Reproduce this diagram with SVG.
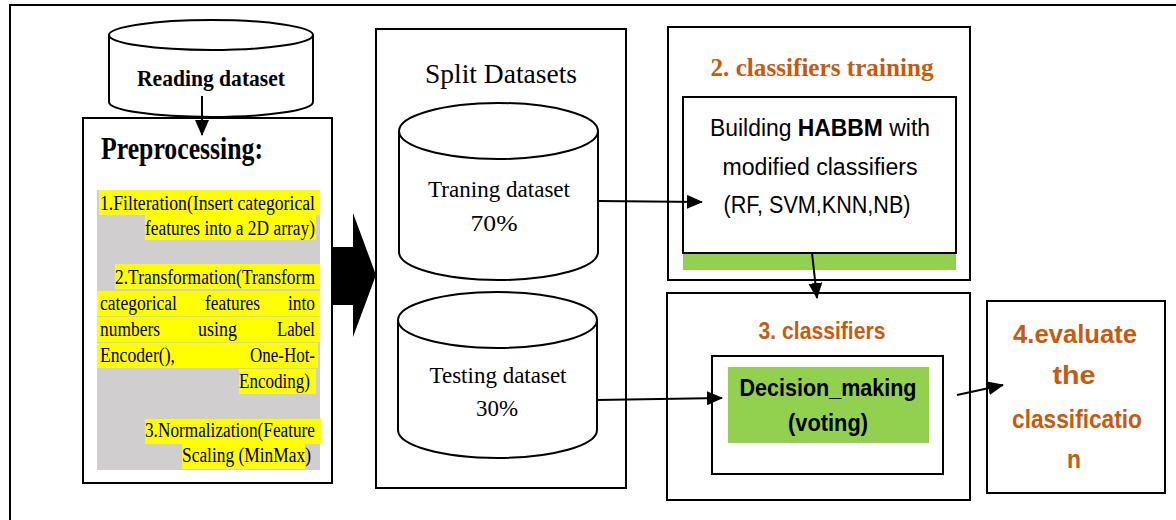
<svg xmlns="http://www.w3.org/2000/svg" width="1176" height="520" viewBox="0 0 1176 520">
<defs>
<marker id="ah" markerUnits="userSpaceOnUse" markerWidth="16" markerHeight="14" refX="15" refY="7" orient="auto">
<path d="M0,0 L16,7 L0,14 Z" fill="#000"/>
</marker>
<style>
.box{fill:#fff;stroke:#000;stroke-width:2}
.cyl{fill:#fff;stroke:#000;stroke-width:2}
.serif{font-family:"Liberation Serif","Times New Roman",serif;fill:#000}
.sans{font-family:"Liberation Sans",Arial,sans-serif;fill:#000}
.or{fill:#C55A11}
.hl{fill:#FFFF00}
.conn{stroke:#000;stroke-width:2;fill:none}
.pp{font-size:20.5px}
</style>
</defs>
<rect width="1176" height="520" fill="#fff"/>
<rect x="10" y="5" width="1200" height="600" fill="none" stroke="#000" stroke-width="2"/>

<g id="preprocessing">
<rect class="box" x="83" y="118" width="249" height="365"/>
<text class="serif" x="101" y="159" font-size="31" font-weight="bold" textLength="162" lengthAdjust="spacingAndGlyphs">Preprocessing:</text>
<rect x="97" y="190" width="223" height="280" fill="#D0CECE"/>
<rect class="hl" x="99" y="190" width="221" height="25"/>
<rect class="hl" x="145" y="215" width="171" height="25"/>
<rect class="hl" x="115" y="264" width="205" height="25"/>
<rect class="hl" x="97" y="291" width="223" height="25"/>
<rect class="hl" x="97" y="317" width="223" height="25"/>
<rect class="hl" x="97" y="343" width="221" height="25"/>
<rect class="hl" x="239" y="369" width="77" height="25"/>
<rect class="hl" x="145" y="419" width="176" height="25"/>
<rect class="hl" x="182" y="444" width="123" height="25"/>
<g class="serif pp">
<text x="100" y="210" textLength="215" lengthAdjust="spacingAndGlyphs">1.Filteration(Insert categorical</text>
<text x="145" y="235" textLength="170" lengthAdjust="spacingAndGlyphs">features into a 2D array)</text>
<text x="115" y="284" textLength="200" lengthAdjust="spacingAndGlyphs">2.Transformation(Transform</text>
<text x="100" y="310" textLength="77" lengthAdjust="spacingAndGlyphs">categorical</text>
<text x="205" y="310" textLength="55" lengthAdjust="spacingAndGlyphs">features</text>
<text x="288" y="310" textLength="27" lengthAdjust="spacingAndGlyphs">into</text>
<text x="100" y="336" textLength="60" lengthAdjust="spacingAndGlyphs">numbers</text>
<text x="198" y="336" textLength="39" lengthAdjust="spacingAndGlyphs">using</text>
<text x="277" y="336" textLength="38" lengthAdjust="spacingAndGlyphs">Label</text>
<text x="100" y="362" textLength="75" lengthAdjust="spacingAndGlyphs">Encoder(),</text>
<text x="250" y="362" textLength="65" lengthAdjust="spacingAndGlyphs">One-Hot-</text>
<text x="239" y="388" textLength="71" lengthAdjust="spacingAndGlyphs">Encoding)</text>
<text x="145" y="437" textLength="170" lengthAdjust="spacingAndGlyphs">3.Normalization(Feature</text>
<text x="182" y="462" textLength="129" lengthAdjust="spacingAndGlyphs">Scaling (MinMax)</text>
</g>
</g>

<g id="reading-dataset">
<path class="cyl" d="M109,35 A102,15 0 0 1 313,35 L313,102 A102,15 0 0 1 109,102 Z"/>
<path class="cyl" d="M109,35 A102,15 0 0 0 313,35" fill="none"/>
<text class="serif" x="211" y="86" font-size="24" font-weight="bold" text-anchor="middle" textLength="148" lengthAdjust="spacingAndGlyphs">Reading dataset</text>
</g>

<g id="split-datasets">
<rect class="box" x="376" y="29" width="250" height="459"/>
<text class="serif" x="501" y="83" font-size="28" text-anchor="middle" textLength="152" lengthAdjust="spacingAndGlyphs">Split Datasets</text>
</g>

<g id="training-dataset">
<path class="cyl" d="M399,131 A99.5,28 0 0 1 598,131 L598,252 A99.5,28 0 0 1 399,252 Z"/>
<path class="cyl" d="M399,131 A99.5,28 0 0 0 598,131" fill="none"/>
<text class="serif" x="499" y="197" font-size="24" text-anchor="middle" textLength="142" lengthAdjust="spacingAndGlyphs">Traning dataset</text>
<text class="serif" x="494" y="231" font-size="24" text-anchor="middle" textLength="47" lengthAdjust="spacingAndGlyphs">70%</text>
</g>

<g id="testing-dataset">
<path class="cyl" d="M398,320 A99.5,28 0 0 1 597,320 L597,430 A99.5,28 0 0 1 398,430 Z"/>
<path class="cyl" d="M398,320 A99.5,28 0 0 0 597,320" fill="none"/>
<text class="serif" x="498" y="383" font-size="24" text-anchor="middle" textLength="137" lengthAdjust="spacingAndGlyphs">Testing dataset</text>
<text class="serif" x="497" y="416" font-size="24" text-anchor="middle" textLength="42" lengthAdjust="spacingAndGlyphs">30%</text>
</g>

<g id="classifiers-training">
<rect class="box" x="668" y="27" width="302" height="253"/>
<text class="serif or" x="822" y="76" font-size="25" font-weight="bold" text-anchor="middle" textLength="223" lengthAdjust="spacingAndGlyphs">2. classifiers training</text>
<rect x="683" y="253" width="273" height="17" fill="#92D050"/>
<rect class="box" x="683" y="97" width="273" height="156"/>
<text class="sans" x="820" y="136" font-size="23" text-anchor="middle" textLength="220" lengthAdjust="spacingAndGlyphs">Building <tspan font-weight="bold">HABBM</tspan> with</text>
<text class="sans" x="820" y="175" font-size="23" text-anchor="middle" textLength="195" lengthAdjust="spacingAndGlyphs">modified classifiers</text>
<text class="sans" x="817" y="213" font-size="23" text-anchor="middle" textLength="187" lengthAdjust="spacingAndGlyphs">(RF, SVM,KNN,NB)</text>
</g>

<g id="classifiers">
<rect class="box" x="667" y="293" width="303" height="207"/>
<text class="sans or" x="822" y="339" font-size="24" font-weight="bold" text-anchor="middle" textLength="127" lengthAdjust="spacingAndGlyphs">3. classifiers</text>
<rect class="box" x="712" y="356" width="231" height="118"/>
<rect x="728" y="367" width="201" height="76" fill="#92D050"/>
<text class="sans" x="828" y="396" font-size="24" font-weight="bold" text-anchor="middle" textLength="177" lengthAdjust="spacingAndGlyphs">Decision_making</text>
<text class="sans" x="828" y="431" font-size="24" font-weight="bold" text-anchor="middle" textLength="80" lengthAdjust="spacingAndGlyphs">(voting)</text>
</g>

<g id="evaluate">
<rect class="box" x="987" y="301" width="178" height="192"/>
<g class="sans or" font-size="25" font-weight="bold" text-anchor="middle">
<text x="1075" y="343" textLength="124" lengthAdjust="spacingAndGlyphs">4.evaluate</text>
<text x="1074" y="384" textLength="43" lengthAdjust="spacingAndGlyphs">the</text>
<text x="1077" y="428" textLength="130" lengthAdjust="spacingAndGlyphs">classificatio</text>
<text x="1074" y="468" textLength="14" lengthAdjust="spacingAndGlyphs">n</text>
</g>
</g>

<g id="connectors">
<line class="conn" x1="202" y1="96" x2="202" y2="135" marker-end="url(#ah)"/>
<polygon points="332,247 353,247 353,213 376,275 353,337 353,305 332,305" fill="#000"/>
<line class="conn" x1="598" y1="201" x2="702" y2="202" marker-end="url(#ah)"/>
<line class="conn" x1="812" y1="253" x2="817" y2="298" marker-end="url(#ah)"/>
<line class="conn" x1="597" y1="400" x2="722" y2="398" marker-end="url(#ah)"/>
<line class="conn" x1="957" y1="395" x2="1003" y2="385" marker-end="url(#ah)"/>
</g>
</svg>
